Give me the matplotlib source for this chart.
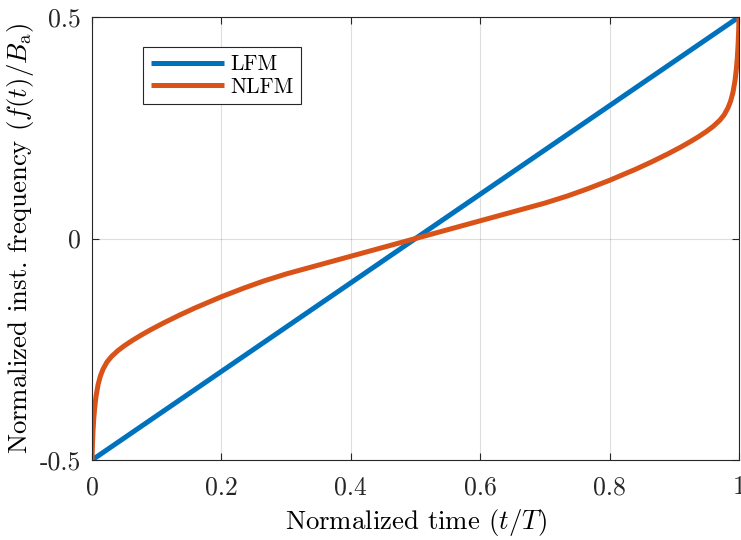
import numpy as np
import matplotlib
matplotlib.use("Agg")
import matplotlib.pyplot as plt

# chart data
t_lfm = [0.0, 1.0]
f_lfm = [-0.5, 0.5]

t_nlfm = [0.0, 0.0005, 0.0015, 0.0026, 0.004, 0.006, 0.0093, 0.013, 0.017, 0.023,
          0.03, 0.04, 0.05, 0.063, 0.076, 0.09, 0.11, 0.135, 0.16, 0.2,
          0.235, 0.265, 0.3, 0.35, 0.4, 0.45, 0.5,
          0.55, 0.6, 0.65, 0.7, 0.735, 0.765, 0.8, 0.84, 0.865, 0.89,
          0.91, 0.924, 0.937, 0.95, 0.96, 0.97, 0.977, 0.983, 0.987, 0.9907,
          0.994, 0.996, 0.9974, 0.9985, 0.9995, 1.0]
f_nlfm = [-0.5, -0.47, -0.435, -0.408, -0.384, -0.358, -0.33, -0.31, -0.295, -0.279,
          -0.2665, -0.253, -0.242, -0.2294, -0.218, -0.2064, -0.191, -0.173, -0.1562, -0.1314,
          -0.1117, -0.0961, -0.08, -0.06, -0.04, -0.02, 0.0,
          0.02, 0.04, 0.06, 0.08, 0.0961, 0.1117, 0.1314, 0.1562, 0.173, 0.191,
          0.2064, 0.218, 0.2294, 0.242, 0.253, 0.2665, 0.279, 0.295, 0.31, 0.33,
          0.358, 0.384, 0.408, 0.435, 0.47, 0.5]

x_ticks = [0, 0.2, 0.4, 0.6, 0.8, 1]
x_ticklabels = ["0", "0.2", "0.4", "0.6", "0.8", "1"]
y_ticks = [-0.5, 0, 0.5]
y_ticklabels = ["-0.5", "0", "0.5"]

plt.rcParams['mathtext.fontset'] = 'cm'
plt.rcParams['axes.unicode_minus'] = False
fs_tick = 18.5
fs_label = 19.3
font = 'cmr10'

fig = plt.figure(figsize=(7.41, 5.40), dpi=100)
ax = fig.add_axes([0.1242, 0.1481, 0.8731, 0.8204])

ax.plot(t_lfm, f_lfm, color='#0072BD', lw=3.6, label='LFM', solid_capstyle='butt')
ax.plot(t_nlfm, f_nlfm, color='#D95319', lw=3.6, label='NLFM', solid_capstyle='butt')

ax.set_xlim(0, 1)
ax.set_ylim(-0.5, 0.5)
ax.set_xticks(x_ticks)
ax.set_xticklabels(x_ticklabels, fontfamily=font, fontsize=fs_tick)
ax.set_yticks(y_ticks)
ax.set_yticklabels(y_ticklabels, fontfamily=font, fontsize=fs_tick)
ax.tick_params(direction='in', length=5, width=0.8, color='#262626',
               top=True, right=True, labelcolor='#262626')
ax.tick_params(axis='x', pad=11)
ax.tick_params(axis='y', pad=8)

ax.grid(True, color='#262626', alpha=0.15, lw=0.8)
ax.set_axisbelow(True)
for s in ax.spines.values():
    s.set_color('#262626')
    s.set_linewidth(0.8)

ax.set_xlabel(r'Normalized time $(t/T)$', fontfamily=font, fontsize=fs_label, labelpad=6)
ax.set_ylabel(r'Normalized inst. frequency $(f(t)/B_\mathrm{a})$', fontfamily=font,
              fontsize=fs_label, labelpad=3)

leg = ax.legend(loc='upper left', bbox_to_anchor=(0.079, 0.932), borderaxespad=0,
                fancybox=False, edgecolor='#262626', framealpha=1,
                prop={'family': font, 'size': 15.5}, handlelength=3.4,
                handletextpad=0.3, labelspacing=0.15, borderpad=0.35)
leg.get_frame().set_linewidth(0.8)

fig.savefig('out.png', dpi=100)
